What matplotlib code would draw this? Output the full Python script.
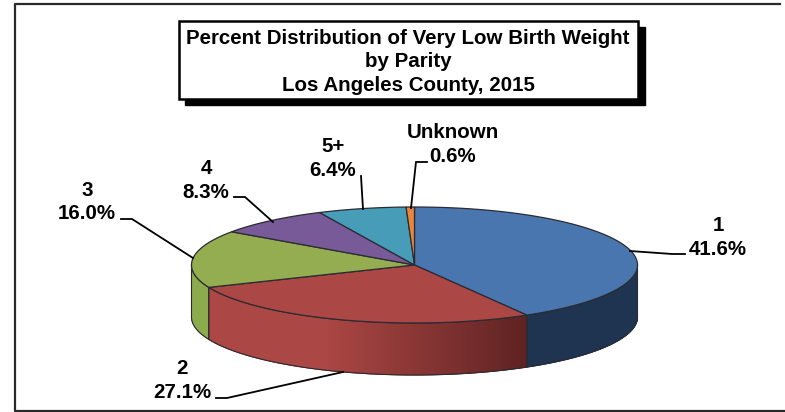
import numpy as np
import matplotlib
matplotlib.use("Agg")
import matplotlib.pyplot as plt
from matplotlib.patches import Polygon, Rectangle
from matplotlib.colors import to_rgb

categories = ["1", "2", "3", "4", "5+", "Unknown"]
percent = [41.6, 27.1, 16.0, 8.3, 6.4, 0.6]
top_colors = ["#4a76b0", "#ab4744", "#93ad50", "#775a97", "#479cb8", "#e8863a"]
side_left = ["#1e3450", "#ab4744", "#8cab4d", "#775a97", "#479cb8", "#e8863a"]
side_right = ["#1e3450", "#5e2222", "#8cab4d", "#775a97", "#479cb8", "#e8863a"]
title_lines = "Percent Distribution of Very Low Birth Weight\nby Parity\nLos Angeles County, 2015"

CX, CY, RX, RY, DEPTH = 414.5, 265.0, 223.0, 58.0, 52.0
label_pos = [(718, 237.5), (182, 380.5), (87, 202), (206, 180.5), (333, 158.5), (453, 144.5)]
leaders = [
    [(630, 251), (672, 254), (685, 254)],
    [(216, 398), (227, 398), (343, 372)],
    [(121, 219), (132, 219), (193, 258)],
    [(234, 197), (245, 197), (273, 222)],
    [(361, 176), (363, 209)],
    [(427, 162), (416, 162), (411, 208)],
]

plt.rcParams["font.family"] = ["Liberation Sans", "DejaVu Sans"]
fig = plt.figure(figsize=(7.85, 4.12), dpi=100)
ax = fig.add_axes([0, 0, 1, 1])
ax.set_xlim(0, 785)
ax.set_ylim(412, 0)
ax.axis("off")


def rim(theta_deg, dy=0.0):
    t = np.radians(theta_deg)
    return np.column_stack([CX + RX * np.sin(t), CY - RY * np.cos(t) + dy])


# outer frame: open on the right
ax.plot([780, 15, 15, 785], [3.5, 3.5, 411, 411], color="#2a2a2a", lw=1.6, zorder=1)

edges = np.concatenate([[0], np.cumsum(percent)]) * 3.6

# side wall, in thin shaded strips
for i in range(len(percent)):
    a0, a1 = max(edges[i], 90), min(edges[i + 1], 270)
    if a1 <= a0:
        continue
    steps = np.linspace(a0, a1, int((a1 - a0) * 2) + 2)
    c0, c1 = np.array(to_rgb(side_left[i])), np.array(to_rgb(side_right[i]))
    for s0, s1 in zip(steps[:-1], steps[1:]):
        f = min(1.0, ((s0 + s1) / 2 - a0) / (a1 - a0) / 0.55)
        col = c1 * (1 - f) + c0 * f
        arc = rim(np.linspace(s0, s1 + 0.3, 4))
        arc2 = rim(np.linspace(s1 + 0.3, s0, 4), DEPTH)
        ax.add_patch(Polygon(np.vstack([arc, arc2]), closed=True, fc=col, ec=col, lw=0.6, zorder=2))
    a = rim(np.linspace(a0, a1, 80))
    b = rim(np.linspace(a1, a0, 80), DEPTH)
    ax.add_patch(Polygon(np.vstack([a, b]), closed=True, fc="none", ec="#2b2b33", lw=0.8, zorder=3))

# top face
for i in range(len(percent)):
    arc = rim(np.linspace(edges[i], edges[i + 1], 120))
    pts = np.vstack([[CX, CY], arc])
    ax.add_patch(Polygon(pts, closed=True, fc=top_colors[i], ec="#2b2b33", lw=0.9, zorder=4))

# title box with shadow
ax.add_patch(Rectangle((185, 27), 460, 78, fc="black", ec="black", lw=1, zorder=5))
ax.add_patch(Rectangle((178.5, 20.5), 459, 78, fc="white", ec="black", lw=1.8, zorder=6))
ax.text(408, 61.5, title_lines, ha="center", va="center", fontsize=14.8, fontweight="bold",
        linespacing=1.3, color="black", zorder=7)

# leader lines and labels
for cat, val, pos, line in zip(categories, percent, label_pos, leaders):
    xs, ys = zip(*line)
    ax.plot(xs, ys, color="black", lw=1.3, zorder=8, solid_joinstyle="miter")
    ax.text(pos[0], pos[1], f"{cat}\n{val:.1f}%", ha="center", va="center", fontsize=14.8,
            fontweight="bold", linespacing=1.32, color="black", zorder=8)

fig.savefig("out.png", dpi=100, facecolor="white")
